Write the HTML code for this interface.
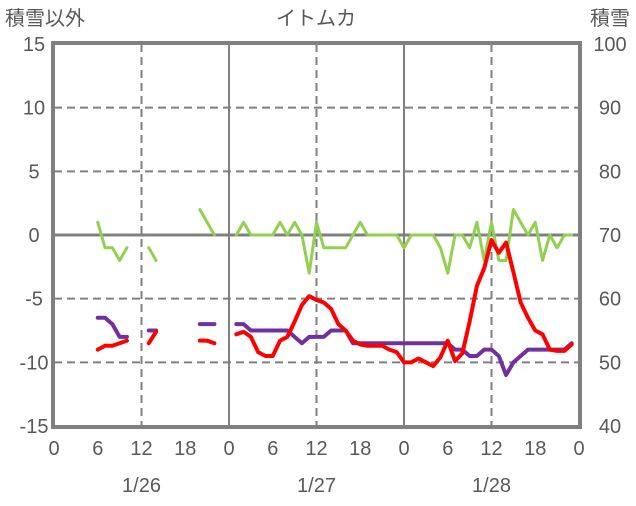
<!DOCTYPE html>
<html><head><meta charset="utf-8"><style>
body{margin:0;background:#fff;width:636px;height:501px;overflow:hidden}
svg text{font-family:"Liberation Sans","Noto Sans CJK JP",sans-serif;fill:#595959}
</style></head><body>
<svg id="c" width="636" height="501"></svg>
<script>
const hours=[0,12,24,36,48,60,72];
const xTicks=["0","6","12","18","0","6","12","18","0","6","12","18","0"];
const dates=["1/26","1/27","1/28"];
const leftTicks=[15,10,5,0,-5,-10,-15];
const rightTicks=[100,90,80,70,60,50,40];
const N=null;
const green=[N,N,N,N,N,N,1,-1,-1,-2,-1,N,N,-1,-2,N,N,N,N,N,2,1,0,N,
N,0,1,0,0,0,0,1,0,1,0,-3,1,-1,-1,-1,-1,0,1,0,0,0,0,0,
-1,0,0,0,0,-1,-3,0,0,-1,1,-2,1,-2,-2,2,1,0,1,-2,0,-1,0,0];
const red=[N,N,N,N,N,N,-9,-8.7,-8.7,-8.5,-8.3,N,N,-8.5,-7.6,N,N,N,N,N,-8.3,-8.3,-8.5,N,
N,-7.8,-7.6,-8,-9.2,-9.5,-9.5,-8.3,-8,-6.8,-5.5,-4.8,-5.1,-5.3,-5.8,-7,-7.5,-8.3,-8.6,-8.7,-8.7,-8.7,-9,-9.2,
-10,-10,-9.7,-10,-10.3,-9.6,-8.3,-9.9,-9.3,-6.8,-4,-2.6,-0.4,-1.4,-0.6,-2.9,-5.3,-6.5,-7.5,-7.8,-9,-9.1,-9.1,-8.6];
const purple=[N,N,N,N,N,N,57,57,56,54,54,N,N,55,55,N,N,N,N,N,56,56,56,N,
N,56,56,55,55,55,55,55,55,54,53,54,54,54,55,55,55,53,53,53,53,53,53,53,
53,53,53,53,53,53,53,52,52,51,51,52,52,51,48,50,51,52,52,52,52,52,52,53];
const X0=54,X1=579,Y0=44,Y1=426;
const x=h=>X0+(X1-X0)*h/72;
const yl=v=>Y0+(15-v)*(Y1-Y0)/30;
const yr=v=>Y0+(100-v)*(Y1-Y0)/60;
const s=document.getElementById('c');const NS="http://www.w3.org/2000/svg";
function el(t,a,txt){const e=document.createElementNS(NS,t);for(const k in a)e.setAttribute(k,a[k]);if(txt!==undefined)e.textContent=txt;s.appendChild(e);return e;}
leftTicks.forEach(v=>{if(v===15||v===-15)return;
 const e=el('line',{x1:X0,x2:X1,y1:yl(v),y2:yl(v),stroke:v===0?'#808080':'#808080','stroke-width':v===0?3:2,'stroke-dasharray':v===0?'':'8,5'});
 
 });
hours.forEach(h=>{if(h===0||h===72)return;
 const e=el('line',{x1:x(h),x2:x(h),y1:Y0,y2:Y1,stroke:'#808080','stroke-width':2,'stroke-dasharray':h%24===0?'':'8,5'});
 
 });
function series(arr,yf,col,w,name){let d='';let pen=false;
 arr.forEach((v,i)=>{if(v===null){pen=false;return;}d+=(pen?'L':'M')+x(i)+','+yf(v);pen=true;});
 const e=el('path',{d:d,fill:'none',stroke:col,'stroke-width':w,'stroke-linejoin':'round','stroke-linecap':'round'});
 
 }
series(green,yl,'#92d050',3,'series-other-green');
series(purple,yr,'#7030a0',4,'series-snow-depth');
series(red,yl,'#ff0000',4,'series-other-red');
const b=el('rect',{x:X0-1,y:Y0-1,width:X1-X0+2,height:Y1-Y0+2,fill:'none',stroke:'#808080','stroke-width':4});


leftTicks.forEach(v=>{const e=el('text',{x:34,y:yl(v)+7,'text-anchor':'middle','font-size':20},String(v));
 
 });
rightTicks.forEach(v=>{const e=el('text',{x:610,y:yr(v)+7,'text-anchor':'middle','font-size':20},String(v));
 
 });
xTicks.forEach((t,i)=>{const e=el('text',{x:x(i*6),y:455,'text-anchor':'middle','font-size':20},t);
 
 });
dates.forEach((t,i)=>{const e=el('text',{x:x(i*24+12),y:492,'text-anchor':'middle','font-size':20},t);
 
 });
const t1=el('text',{x:316,y:25,'text-anchor':'middle','font-size':20},'イトムカ');


const t2=el('text',{x:5,y:25,'font-size':20},'積雪以外');


const t3=el('text',{x:630,y:25,'text-anchor':'end','font-size':20},'積雪');


</script>
</body></html>
